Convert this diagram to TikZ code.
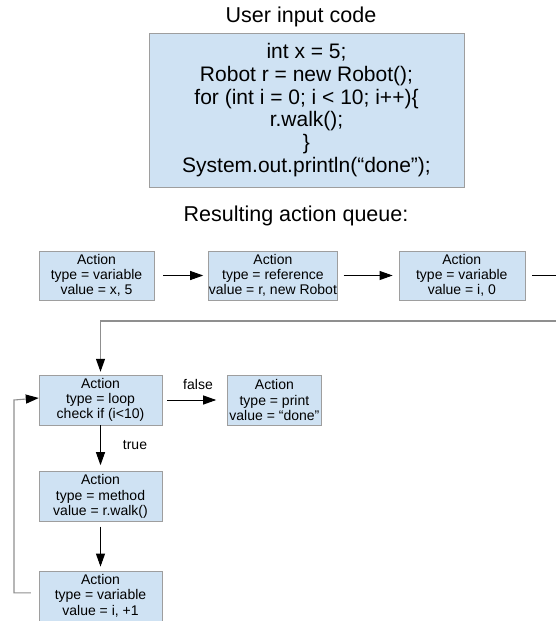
\documentclass[tikz,border=0pt]{standalone}
\usepackage{fontspec}
\setmainfont{Liberation Sans}
\usetikzlibrary{positioning,arrows.meta}
\definecolor{boxblue}{HTML}{CFE2F3}
\definecolor{boxedge}{HTML}{9E9E9E}
\definecolor{wire}{HTML}{8F8F8F}
\begin{document}
\begin{tikzpicture}
		[x=1pt, y=-1pt,
		every node/.style={inner sep=0pt},
		action/.style={rectangle, draw=boxedge, fill=boxblue, minimum height=49pt,
			minimum width=123pt, align=center, font=\fontsize{14}{15.2}\selectfont},
		heading/.style={font=\fontsize{21.5}{23}\selectfont},
		tag/.style={font=\fontsize{14}{15}\selectfont},
		flow/.style={-{Triangle[length=13pt,width=9pt]}, line width=0.9pt},
		loopback/.style={wire, line width=1.1pt, -{Triangle[length=13pt,width=9pt,color=black]}}]
		\useasboundingbox (0,0) rectangle (556,621);
		\node[heading] (title) at (301,17) {User input code};
		\node[rectangle, draw=boxedge, fill=boxblue, minimum width=315pt, minimum height=154pt,
			align=center, font=\fontsize{21}{22.8}\selectfont] (code) at (306.5,110)
			{int x = 5;\\ Robot r = new Robot();\\ for (int i = 0; i < 10; i++)\{\\
			r.walk();\\ \}\\ System.out.println(“done”);};
		\node[heading] (queue) at (296,216) {Resulting action queue:};
		\node[action, minimum width=115pt] (setx) at (96.5,275.5)
			{Action\\ type = variable\\ value = x, 5};
		\node[action, minimum width=129pt, right=54pt of setx] (setr)
			{Action\\ type = reference\\ value = r, new Robot};
		\node[action, minimum width=126pt, right=61pt of setr] (seti)
			{Action\\ type = variable\\ value = i, 0};
		\coordinate (edge) at (556,275.5);
		\coordinate (wrap) at (556,321);
		\node[action, minimum height=50pt] (check) at (100.5,400)
			{Action\\ type = loop\\ check if (i<10)};
		\node[action, minimum width=94pt, minimum height=50pt, right=65pt of check] (print)
			{Action\\ type = print\\ value = “done”};
		\node[action, minimum height=50pt, below=46pt of check] (walk)
			{Action\\ type = method\\ value = r.walk()};
		\node[action, minimum height=50pt, below=49pt of walk] (step)
			{Action\\ type = variable\\ value = i, +1};
		\coordinate (side) at (14,400);
		\node[tag] (false) at (198,384) {false};
		\node[tag] (true) at (135,445) {true};
		\draw[flow, shorten <=9pt, shorten >=5pt] (setx) -- (setr);
		\draw[flow, shorten <=6pt, shorten >=6pt] (setr) -- (seti);
		\draw[line width=0.9pt, shorten <=7pt] (seti) -- (edge);
		\draw[loopback, shorten >=3pt] (wrap) -| (check.north);
		\draw[flow, shorten <=5pt, shorten >=11pt] (check) -- (print);
		\draw[flow, shorten >=6pt] (check) -- (walk);
		\draw[flow, shorten <=5pt, shorten >=4pt] (walk) -- (step);
		\draw[loopback] ([xshift=-8pt, yshift=3pt]step.west) -| (side) -- ([yshift=2pt]check.west);
\end{tikzpicture}
\end{document}
